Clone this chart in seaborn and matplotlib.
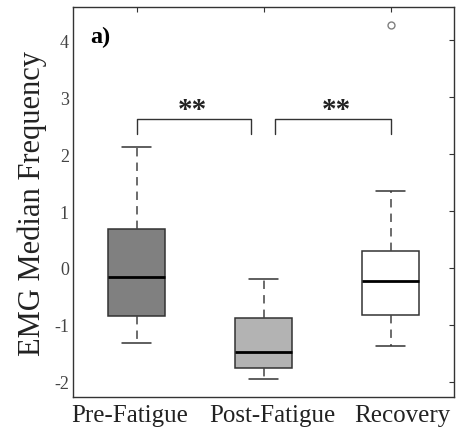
import matplotlib
matplotlib.use("Agg")
import matplotlib.pyplot as plt
import matplotlib.transforms as mtransforms
import pandas as pd
import numpy as np
import seaborn as sns

# values per condition
conditions = ['Pre-Fatigue', 'Post-Fatigue', 'Recovery']
pre_fatigue = [-1.32, -1.05, -0.85, -0.5, -0.16, 0.3, 0.68, 1.4, 2.12]
post_fatigue = [-1.95, -1.82, -1.75, -1.6, -1.48, -1.2, -0.88, -0.5, -0.19]
recovery = [-1.37, -1.0, -0.82, -0.5, -0.23, 0.1, 0.30, 1.36, 4.27]
box_colors = ['#808080', '#b3b3b3', '#ffffff']
yticks = [-2, -1, 0, 1, 2, 3, 4]

# significance brackets: (x start, x end, y top, y bottom)
brackets = [(0, 0.90, 2.61, 2.35), (1.09, 2, 2.61, 2.35)]
stars_x = [0.44, 1.57]
stars_y = 2.55

df = pd.DataFrame({
    'cond': np.repeat(conditions, [len(pre_fatigue), len(post_fatigue), len(recovery)]),
    'val': pre_fatigue + post_fatigue + recovery,
})

sns.set_style('white')
plt.rcParams['font.family'] = ['Liberation Serif', 'DejaVu Serif']

fig = plt.figure(figsize=(4.57, 4.39), dpi=100)
ax = fig.add_axes([0.160, 0.093, 0.834, 0.888])

sns.boxplot(data=df, x='cond', y='val', hue='cond', palette=box_colors,
            order=conditions, hue_order=conditions, width=0.45, saturation=1,
            linecolor='#333333', linewidth=1.1, fliersize=5, legend=False,
            whiskerprops=dict(linestyle=(0, (5.5, 4)), color='#444444'),
            capprops=dict(color='#333333'),
            medianprops=dict(color='black', linewidth=2),
            flierprops=dict(marker='o', markerfacecolor='none',
                            markeredgecolor='#808080', markeredgewidth=1),
            ax=ax)

for x0, x1, ytop, ybot in brackets:
    ax.plot([x0, x0, x1, x1], [ybot, ytop, ytop, ybot], color='#333333', lw=1)
for sx in stars_x:
    ax.text(sx, stars_y, '**', ha='center', va='bottom', fontsize=21,
            fontweight='bold', color='#222222')

ax.text(0.045, 0.925, 'a)', transform=ax.transAxes, fontsize=17.5,
        fontweight='bold', ha='left', va='center', color='black')

ax.set_xlim(-0.5, 2.5)
ax.set_ylim(-2.27, 4.58)
ax.set_yticks(yticks)
ax.set_yticklabels([str(t) for t in yticks])
ax.set_xlabel('')
ax.set_ylabel('EMG Median Frequency', fontsize=22, color='#222222', labelpad=5)

ax.tick_params(axis='both', direction='in', length=3.5, width=0.8,
               top=True, right=True, color='#333333')
ax.tick_params(axis='y', labelsize=13, labelcolor='#444444', pad=3)
ax.tick_params(axis='x', labelsize=18, labelcolor='#222222', pad=5)
for s in ax.spines.values():
    s.set_visible(True)
    s.set_color('#333333')
    s.set_linewidth(1.0)

# the category labels sit a little off their ticks in the original
shifts = [-7, 9, 12]
for lab, dx in zip(ax.get_xticklabels(), shifts):
    lab.set_transform(lab.get_transform() +
                      mtransforms.ScaledTranslation(dx / 100, 0, fig.dpi_scale_trans))

fig.savefig('out.png', dpi=100)
